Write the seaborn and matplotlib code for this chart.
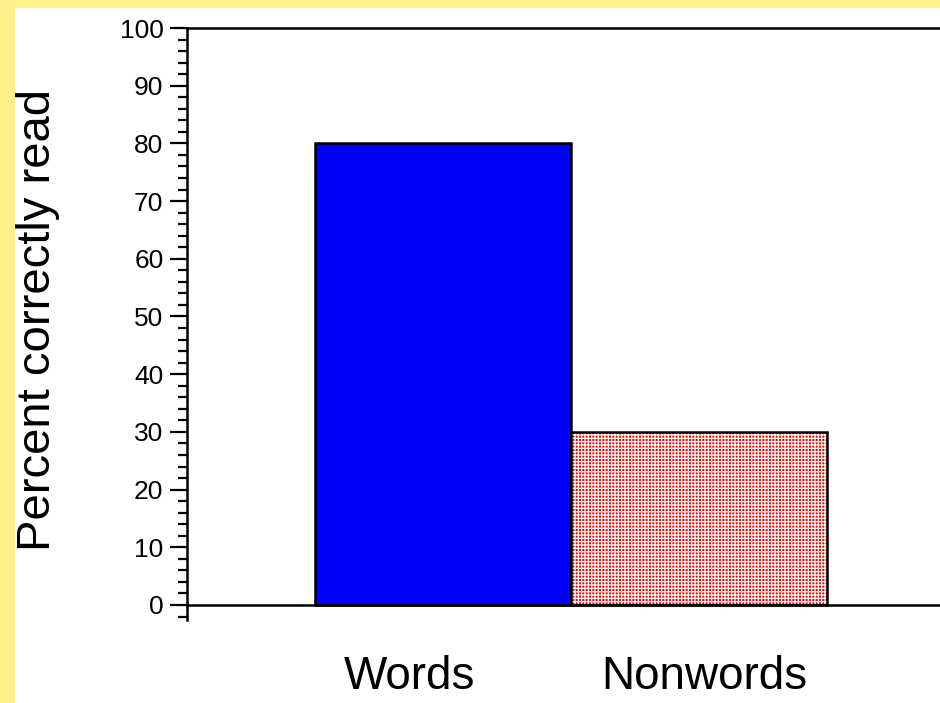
import matplotlib
matplotlib.use("Agg")
import matplotlib.pyplot as plt
import matplotlib.transforms as mtransforms
from matplotlib.patches import Rectangle
from matplotlib.ticker import MultipleLocator
import pandas as pd
import seaborn as sns

# data
categories = ["Words", "Nonwords"]
percent_correct = [80, 30]
bar_colors = ["#0000ff", "#ff0000"]

df = pd.DataFrame({"Condition": categories, "Percent": percent_correct})

sns.set_style("ticks")
plt.rcParams["font.family"] = ["Liberation Sans", "DejaVu Sans"]
plt.rcParams["hatch.linewidth"] = 0.9
for key in ["text.color", "axes.labelcolor", "xtick.color", "ytick.color", "axes.edgecolor"]:
    plt.rcParams[key] = "black"

fig = plt.figure(figsize=(9.4, 7.03), dpi=100)
fig.patch.set_facecolor("#fff08a")
# white panel inside the yellow frame
fig.patches.append(Rectangle((15 / 940, 0), 1, 1 - 8 / 703, transform=fig.transFigure,
                             facecolor="white", edgecolor="none", zorder=-10))

ax = fig.add_axes([187 / 940, 83 / 703, 1 - 187 / 940, (620 - 28) / 703])
ax.set_facecolor("none")

sns.barplot(data=df, x="Condition", y="Percent", hue="Condition", palette=bar_colors,
            width=1.0, edgecolor="black", linewidth=1.8, legend=False, ax=ax,
            saturation=1)

# dotted red fill for the nonwords bar
p = ax.patches[1]
p.set_edgecolor("white")
p.set_linewidth(0)
p.set_hatch("+" * 5)
ax.add_patch(Rectangle((p.get_x(), p.get_y()), p.get_width(), p.get_height(),
                       fill=False, edgecolor="black", linewidth=1.8, zorder=3))

ax.set_xlim(-1.0, 1.94)
ax.set_ylim(-2.6, 100)
ax.spines["bottom"].set_position(("data", 0))
ax.spines["right"].set_visible(False)
for s in ["left", "bottom", "top"]:
    ax.spines[s].set_linewidth(1.8)

ax.set_yticks(range(0, 101, 10))
ax.yaxis.set_minor_locator(MultipleLocator(2))
ax.tick_params(axis="y", which="major", length=12, width=1.6, labelsize=19, pad=5)
ax.tick_params(axis="y", which="minor", length=6.5, width=1.6)
ax.tick_params(axis="x", length=0, labelsize=33, pad=36)

# nudge category labels to where they sit in the original
for lab, dx in zip(ax.get_xticklabels(), [-34, 5]):
    lab.set_transform(lab.get_transform() + mtransforms.Affine2D().translate(dx, 0))

ax.set_xlabel("")
ax.set_ylabel("Percent correctly read", fontsize=34, va="center")
ax.yaxis.set_label_coords(-0.198, 0.507)

fig.savefig("out.png", dpi=100, facecolor=fig.get_facecolor())
